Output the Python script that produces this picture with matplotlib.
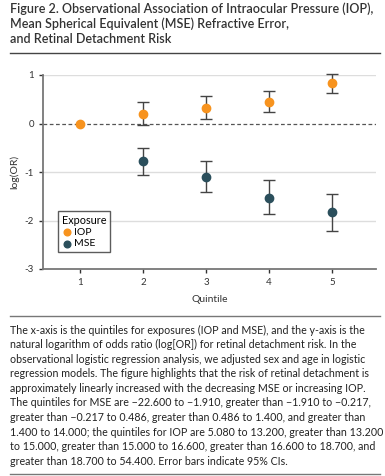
import matplotlib.pyplot as plt
from matplotlib.lines import Line2D

plt.rcParams['font.family'] = ['Lato', 'DejaVu Sans']

quintiles = [1, 2, 3, 4, 5]
iop = [0.0, 0.20, 0.32, 0.45, 0.83]
iop_lo = [0.0, -0.04, 0.10, 0.23, 0.62]
iop_hi = [0.0, 0.44, 0.57, 0.67, 1.03]
mse_q = [2, 3, 4, 5]
mse = [-0.78, -1.10, -1.53, -1.83]
mse_lo = [-1.06, -1.42, -1.87, -2.22]
mse_hi = [-0.50, -0.78, -1.17, -1.45]

title_lines = ["Figure 2. Observational Association of Intraocular Pressure (IOP),",
               "Mean Spherical Equivalent (MSE) Refractive Error,",
               "and Retinal Detachment Risk"]
caption_lines = [
    "The x-axis is the quintiles for exposures (IOP and MSE), and the y-axis is the",
    "natural logarithm of odds ratio (log[OR]) for retinal detachment risk. In the",
    "observational logistic regression analysis, we adjusted sex and age in logistic",
    "regression models. The figure highlights that the risk of retinal detachment is",
    "approximately linearly increased with the decreasing MSE or increasing IOP.",
    "The quintiles for MSE are \u221222.600 to \u22121.910, greater than \u22121.910 to \u22120.217,",
    "greater than \u22120.217 to 0.486, greater than 0.486 to 1.400, and greater than",
    "1.400 to 14.000; the quintiles for IOP are 5.080 to 13.200, greater than 13.200",
    "to 15.000, greater than 15.000 to 16.600, greater than 16.600 to 18.700, and",
    "greater than 18.700 to 54.400. Error bars indicate 95% CIs.",
]

orange = '#F7931E'
teal = '#2B4F5C'
W, H = 385, 476

fig = plt.figure(figsize=(W / 100, H / 100), dpi=100)

# title + rules
for i, t in enumerate(title_lines):
    fig.text(10 / W, 1 - (9 + 15 * i) / H, t, fontsize=9.0, color='#333333',
             fontweight='semibold', va='center', ha='left')
fig.add_artist(Line2D([10 / W, 380 / W], [1 - 53 / H] * 2, color='#444444', lw=1))
fig.add_artist(Line2D([10 / W, 380 / W], [1 - 316 / H] * 2, color='#777777', lw=1))
fig.add_artist(Line2D([10 / W, 380 / W], [1 - 474 / H] * 2, color='#777777', lw=1))

ax = fig.add_axes([43 / W, 1 - 269 / H, 333 / W, 194 / H])
ax.set_xlim(0.41, 5.7)
ax.set_ylim(-3, 1)

for y in [1, -1, -2]:
    ax.axhline(y, color='#dddddd', lw=1, zorder=0)
ax.axhline(0, color='#555555', lw=0.9, ls=(0, (3, 2)), zorder=1)

err_iop = [[v - l for v, l in zip(iop[1:], iop_lo[1:])],
           [h - v for v, h in zip(iop[1:], iop_hi[1:])]]
ax.errorbar(quintiles[1:], iop[1:], yerr=err_iop, fmt='none', ecolor='#444444',
            elinewidth=1, capsize=4, capthick=1, clip_on=False, zorder=2)
ax.scatter(quintiles, iop, s=36, color=orange, zorder=3, clip_on=False, label='IOP')

err_mse = [[v - l for v, l in zip(mse, mse_lo)], [h - v for v, h in zip(mse, mse_hi)]]
ax.errorbar(mse_q, mse, yerr=err_mse, fmt='none', ecolor='#444444',
            elinewidth=1, capsize=4, capthick=1, zorder=2)
ax.scatter(mse_q, mse, s=36, color=teal, zorder=3, label='MSE')

ax.set_xticks(quintiles)
ax.set_yticks([1, 0, -1, -2, -3])
ax.set_yticklabels(['1', '0', '-1', '-2', '-3'])
ax.tick_params(labelsize=7, colors='#333333', length=3, width=1)
for s in ['top', 'right']:
    ax.spines[s].set_visible(False)
ax.spines['left'].set_color('#777777')
ax.spines['left'].set_linewidth(1.3)
ax.spines['bottom'].set_color('#777777')
ax.spines['bottom'].set_linewidth(1.3)
ax.set_xlabel('Quintile', fontsize=7.5, color='#333333', labelpad=6)
ax.set_ylabel('log(OR)', fontsize=7.5, color='#333333', labelpad=4)

leg = ax.legend(title='Exposure', loc='lower left', bbox_to_anchor=(0.045, 0.088),
                borderaxespad=0, fontsize=7.5, title_fontsize=7.8, frameon=True,
                fancybox=False, edgecolor='#333333', handletextpad=0.2,
                borderpad=0.35, labelspacing=0.2, handlelength=1.0, markerscale=0.8)
leg._legend_box.align = 'left'
leg.get_frame().set_linewidth(1)

for i, t in enumerate(caption_lines):
    fig.text(10 / W, 1 - (330 + 14.6 * i) / H, t, fontsize=7.7, color='#222222',
             va='center', ha='left')

fig.savefig('out.png', dpi=100)
